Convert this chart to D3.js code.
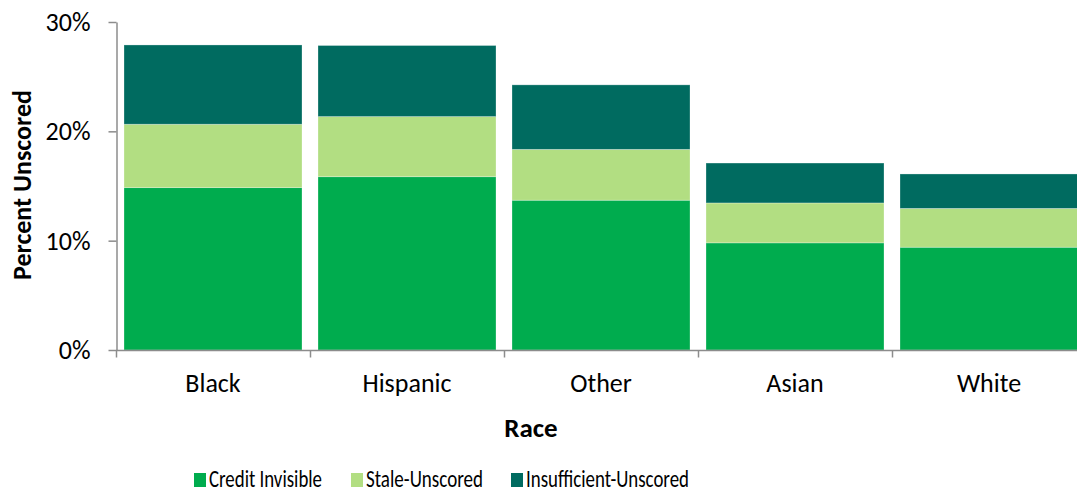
<!DOCTYPE html>
<html><head><meta charset="utf-8">
<script src="https://cdn.jsdelivr.net/npm/d3@7"></script>
<style>
body{margin:0;background:#fff;}
text{font-family:Carlito,Lato,"Open Sans",sans-serif;fill:#000;}
</style></head>
<body><svg id="c" width="1077" height="493"></svg>
<script>
const categories = ["Black","Hispanic","Other","Asian","White"];
const seriesNames = ["Credit Invisible","Stale-Unscored","Insufficient-Unscored"];
const creditInvisible = [0.1485,0.1585,0.137,0.098,0.094];
const staleUnscored = [0.058,0.055,0.0465,0.0365,0.0355];
const insufficientUnscored = [0.0725,0.065,0.059,0.0365,0.0315];
const yTicks = [0,0.1,0.2,0.3];
const colors = ["#00ac4e","#b2de82","#006b60"];

const rows = categories.map((c,i)=>({cat:c,"Credit Invisible":creditInvisible[i],"Stale-Unscored":staleUnscored[i],"Insufficient-Unscored":insufficientUnscored[i]}));
const stacked = d3.stack().keys(seriesNames)(rows);

const svg = d3.select("#c");
const x = d3.scaleBand().domain(categories).range([116,1086]).paddingInner(16/194).paddingOuter(8/194);
const y = d3.scaleLinear().domain([0,0.3]).range([350,22]);
const color = d3.scaleOrdinal().domain(seriesNames).range(colors);

svg.append("g").selectAll("g").data(stacked).join("g")
  .attr("fill",d=>color(d.key))
  .selectAll("rect").data(d=>d).join("rect")
  .attr("x",d=>x(d.data.cat)).attr("width",x.bandwidth())
  .attr("y",d=>y(d[1])).attr("height",d=>y(d[0])-y(d[1]))
  .attr("stroke","rgba(255,255,255,0.35)").attr("stroke-width",0.8);

// y axis
const ya = svg.append("g").attr("transform","translate(116.5,0)")
  .call(d3.axisLeft(y).tickValues(yTicks).tickFormat(d3.format(".0%")).tickSize(8).tickSizeOuter(0).tickPadding(18));
ya.selectAll("path,line").attr("stroke","#8c8c8c").attr("stroke-width",1.5);
ya.selectAll("text").attr("font-size",26).attr("font-family","Carlito,Lato,sans-serif").attr("dy","0.33em").attr("fill","#000");

// x axis
const xa = svg.append("g").attr("transform","translate(0,350.5)");
xa.append("line").attr("x1",116).attr("x2",1077).attr("stroke","#8c8c8c").attr("stroke-width",1.5);
xa.selectAll("line.t").data(categories).join("line").attr("class","t")
  .attr("x1",d=>x(d)-8+0.5).attr("x2",d=>x(d)-8+0.5).attr("y1",0).attr("y2",7)
  .attr("stroke","#8c8c8c").attr("stroke-width",1.5);
xa.selectAll("text").data(categories).join("text")
  .attr("x",d=>x(d)+x.bandwidth()/2).attr("y",41.5)
  .attr("text-anchor","middle").attr("font-size",26).text(d=>d);

// axis titles
svg.append("text").attr("x",531).attr("y",437).attr("text-anchor","middle")
  .attr("font-size",27).attr("font-weight","bold").text("Race");
svg.append("text").attr("transform","translate(31,185) rotate(-90)").attr("text-anchor","middle")
  .attr("font-size",26).attr("font-weight","bold").text("Percent Unscored");

// legend
const legX = [194,351,511];
const legW = [113,117,163];
const lg = svg.append("g").selectAll("g").data(seriesNames).join("g")
  .attr("transform",(d,i)=>`translate(${legX[i]},0)`);
lg.append("rect").attr("x",0).attr("y",473).attr("width",12).attr("height",14).attr("fill",d=>color(d));
lg.append("text").attr("x",15).attr("y",487).attr("font-size",25)
  .attr("textLength",(d,i)=>legW[i]).attr("lengthAdjust","spacingAndGlyphs").text(d=>d);
</script>
</body></html>
